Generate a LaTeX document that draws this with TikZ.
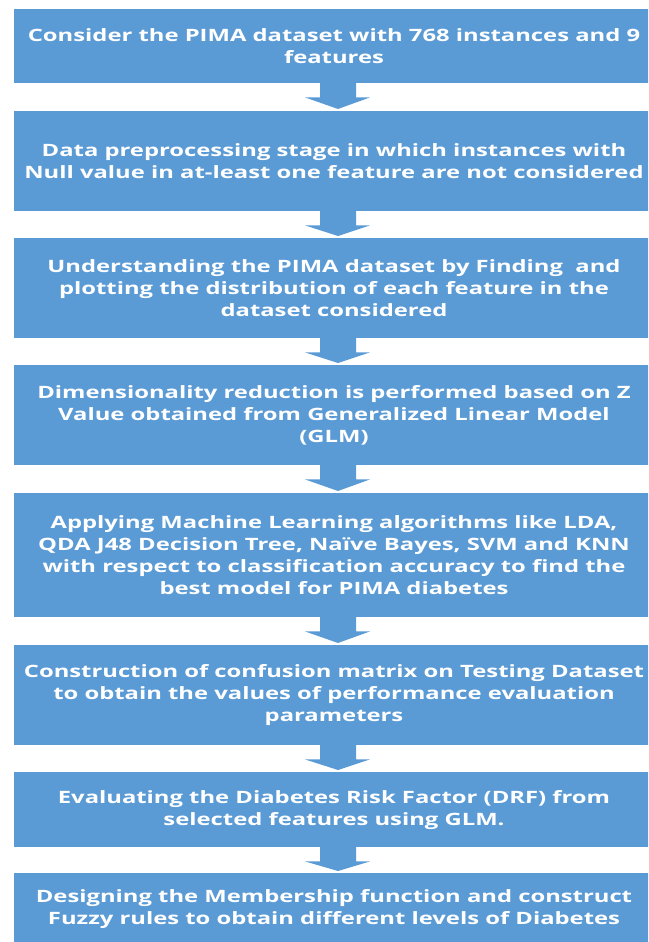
\documentclass[tikz,border=0pt]{standalone}
\usepackage{fontspec}
\setmainfont{Open Sans}
\newfontfamily\boxfont[FakeStretch=1.40]{Open Sans}
\usetikzlibrary{calc}
\definecolor{boxblue}{HTML}{5B9BD5}
\tikzset{
  stepbox/.style={rectangle, fill=boxblue, draw=none, inner sep=0pt,
    minimum width=640pt, text=white, align=center, anchor=north,
    font=\boxfont\bfseries\fontsize{17pt}{22pt}\selectfont},
  blockarrow/.style={fill=boxblue, draw=none}
}
\newcommand{\downarrowblock}[2]{%
  \fill[blockarrow] ($(#1.south)+(-14pt,0.5pt)$) -- ($(#1.south)+(-14pt,-14pt)$)
    -- ($(#1.south)+(-29pt,-14pt)$) -- ($(#2.north)+(4pt,2pt)$)
    -- ($(#1.south)+(36pt,-14pt)$) -- ($(#1.south)+(22pt,-14pt)$)
    -- ($(#1.south)+(22pt,0.5pt)$) -- cycle;}
\begin{document}
\begin{tikzpicture}[x=1pt,y=1pt]
\useasboundingbox (0,0) rectangle (648,-942);
\clip (0,0) rectangle (648,-942);
\fill[white] (0,0) rectangle (648,-942);
\node[stepbox, minimum height=74pt] (b1) at (334,-9) {Consider the PIMA dataset with 768 instances and 9\\features};
\node[stepbox, minimum height=100pt] (b2) at (334,-111) {Data preprocessing stage in which instances with\\Null value in at-least one feature are not considered};
\node[stepbox, minimum height=100pt] (b3) at (334,-238) {Understanding the PIMA dataset by Finding\ \ and\\plotting the distribution of each feature in the\\dataset considered};
\node[stepbox, minimum height=100pt] (b4) at (334,-365) {Dimensionality reduction is performed based on Z\\Value obtained from Generalized Linear Model\\(GLM)};
\node[stepbox, minimum height=124pt] (b5) at (334,-493) {Applying Machine Learning algorithms like LDA,\\QDA J48 Decision Tree, Naïve Bayes, SVM and KNN\\with respect to classification accuracy to find the\\best model for PIMA diabetes};
\node[stepbox, minimum height=100pt] (b6) at (334,-645) {Construction of confusion matrix on Testing Dataset\\to obtain the values of performance evaluation\\parameters};
\node[stepbox, minimum height=75pt] (b7) at (334,-772) {Evaluating the Diabetes Risk Factor (DRF) from\\selected features using GLM.};
\node[stepbox, minimum height=71pt] (b8) at (334,-873) {Designing the Membership function and construct\\Fuzzy rules to obtain different levels of Diabetes};
\downarrowblock{b1}{b2}
\downarrowblock{b2}{b3}
\downarrowblock{b3}{b4}
\downarrowblock{b4}{b5}
\downarrowblock{b5}{b6}
\downarrowblock{b6}{b7}
\downarrowblock{b7}{b8}
\end{tikzpicture}
\end{document}
